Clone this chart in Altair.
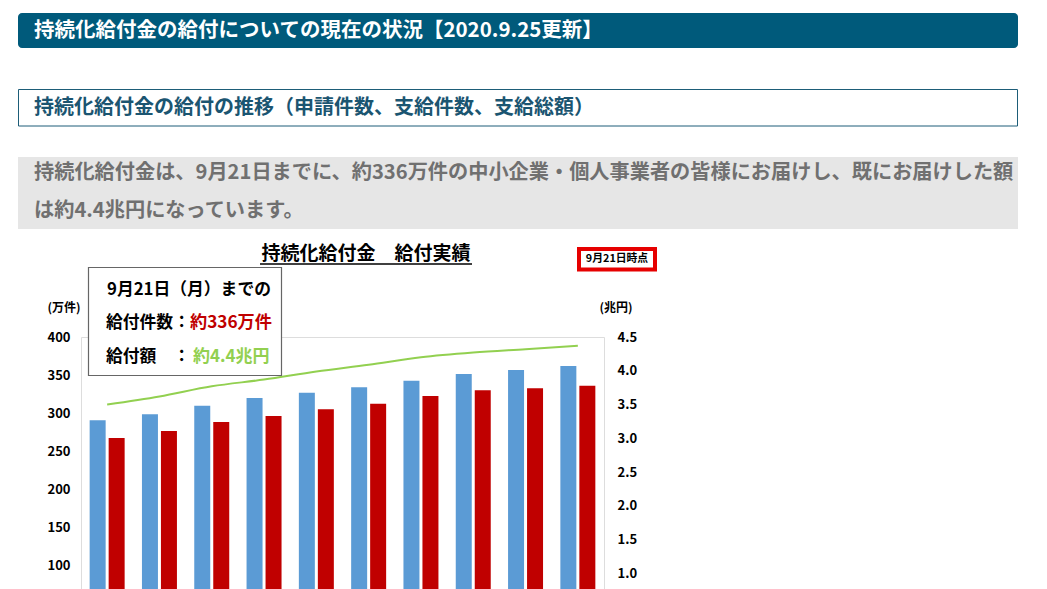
import altair as alt
import pandas as pd

# ---- data ----
dates = ["7/20", "7/27", "8/3", "8/10", "8/17", "8/24", "8/31", "9/7", "9/14", "9/21"]
applications = [290.5, 298.3, 309.6, 319.7, 326.7, 333.8, 342.5, 351.3, 356.6, 361.8]   # 申請件数 (万件)
payments = [267.1, 276.3, 288.2, 296.1, 305.0, 312.2, 322.4, 329.9, 332.5, 335.9]       # 支給件数 (万件)
amount = [3.50, 3.62, 3.77, 3.87, 3.99, 4.09, 4.20, 4.27, 4.32, 4.37]                   # 支給総額 (兆円)
series_names = ["申請件数", "支給件数"]
left_ticks = [100, 150, 200, 250, 300, 350, 400]
right_ticks = [1.0, 1.5, 2.0, 2.5, 3.0, 3.5, 4.0, 4.5]

header = "持続化給付金の給付についての現在の状況【2020.9.25更新】"
subtitle = "持続化給付金の給付の推移（申請件数、支給件数、支給総額）"
body1 = "持続化給付金は、9月21日までに、約336万件の中小企業・個人事業者の皆様にお届けし、既にお届けした額"
body2 = "は約4.4兆円になっています。"
chart_title = "持続化給付金　給付実績"
stamp = "9月21日時点"

FONT = "Noto Sans CJK JP"

bars_df = pd.DataFrame(
    [{"date": d, "series": series_names[0], "value": v} for d, v in zip(dates, applications)]
    + [{"date": d, "series": series_names[1], "value": v} for d, v in zip(dates, payments)]
)
line_df = pd.DataFrame({"date": dates, "amount": amount})
one = pd.DataFrame({"k": [0]})

# plot origin is at page (81, 337)
def px(x):
    return x - 81

def py(y):
    return y - 337

def rect(x1, y1, x2, y2, **kw):
    return alt.Chart(one).mark_rect(**kw).encode(
        x=alt.value(px(x1)), x2=alt.value(px(x2)), y=alt.value(py(y1)), y2=alt.value(py(y2))
    )

def text(s, x, y, size, color="#000000", align="left", weight="bold"):
    return alt.Chart(one).mark_text(
        text=s, align=align, baseline="middle", fontSize=size, fontWeight=weight,
        color=color, font=FONT
    ).encode(x=alt.value(px(x)), y=alt.value(py(y)))

bars = alt.Chart(bars_df).mark_bar().encode(
    x=alt.X("date:N", sort=dates, title=None,
            scale=alt.Scale(paddingInner=0.331, paddingOuter=0.1655),
            axis=alt.Axis(labels=False, ticks=False, domainColor="#d9d9d9")),
    xOffset=alt.XOffset("series:N", sort=series_names, scale=alt.Scale(paddingInner=0.158)),
    y=alt.Y("value:Q", title=None,
            scale=alt.Scale(domain=[0, 400], nice=False),
            axis=alt.Axis(orient="left", values=left_ticks, grid=False, domain=False, ticks=False,
                          labelPadding=11, labelFontSize=13, labelFontWeight="bold",
                          labelFont=FONT, labelColor="#000000")),
    color=alt.Color("series:N", sort=series_names, legend=None,
                    scale=alt.Scale(domain=series_names, range=["#5b9bd5", "#c00000"])),
)

line = alt.Chart(line_df).mark_line(color="#92d050", strokeWidth=2, interpolate="monotone").encode(
    x=alt.X("date:N", sort=dates),
    y=alt.Y("amount:Q", title=None,
            scale=alt.Scale(domain=[0, 4.5], nice=False),
            axis=alt.Axis(orient="right", values=right_ticks, format=".1f", grid=False,
                          domain=False, ticks=False, labelPadding=13, labelFontSize=13,
                          labelFontWeight="bold", labelFont=FONT, labelColor="#000000")),
)

decor = [
    rect(18, 13, 1018, 48, color="#005a7b", cornerRadius=4),
    text(header, 34, 30.5, 20.5, color="#ffffff"),
    rect(18.5, 89.5, 1017.5, 126, fill="#ffffff", stroke="#1d5d78", strokeWidth=1),
    text(subtitle, 34, 107.5, 20, color="#1b5571"),
    rect(18, 157, 1018, 229, color="#e6e6e6"),
    text(body1, 34, 172.5, 20.2, color="#707070"),
    text(body2, 34, 210.5, 20.2, color="#707070"),
    text(chart_title, 366, 254, 19, align="center"),
    alt.Chart(one).mark_rule(color="#000000", strokeWidth=1.5).encode(
        x=alt.value(px(260)), x2=alt.value(px(472)), y=alt.value(py(264))),
    rect(579, 249, 655, 269.5, fill="#ffffff", stroke="#e60000", strokeWidth=4),
    text(stamp, 617, 259, 10.8, align="center"),
    rect(88.5, 267.5, 281.5, 375.5, fill="#ffffff", stroke="#666666", strokeWidth=1.2),
    text("9月21日（月）までの", 107, 290, 16.8),
    text("給付件数：", 106, 323, 16.8),
    text("約336万件", 190, 323, 17.2, color="#c00000"),
    text("給付額　：", 106, 357, 16.8),
    text("約4.4兆円", 193, 357, 17, color="#92d050"),
    text("(万件)", 64, 308, 12, align="center"),
    text("(兆円)", 616, 308, 12, align="center"),
]

chart = alt.layer(bars, line, *decor).resolve_scale(y="independent").properties(
    width=523, height=304,
    autosize=alt.AutoSizeParams(type="none"),
    padding={"left": 73, "top": 329, "right": 416, "bottom": 40},
).configure_view(stroke=None).configure(font=FONT)

chart.save("out.html", embed_options={"renderer": "svg", "actions": False})
